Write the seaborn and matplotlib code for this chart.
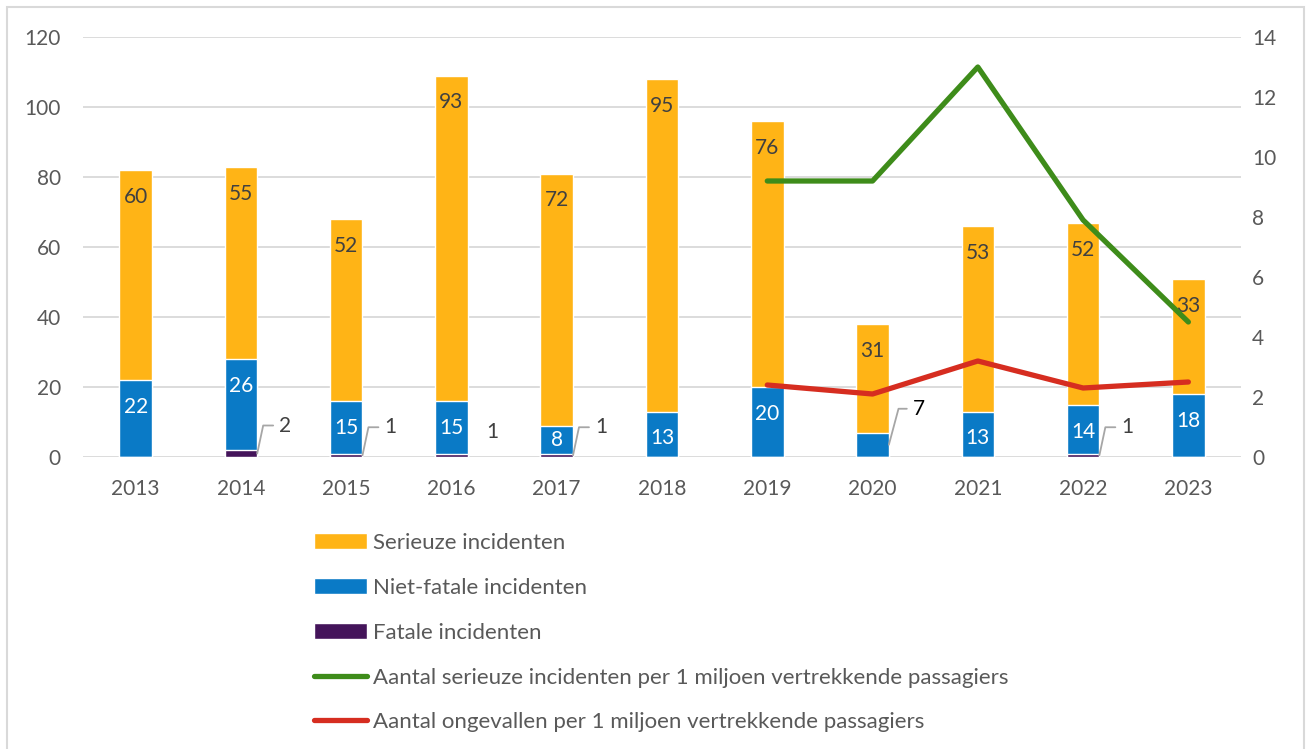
import matplotlib
matplotlib.use("Agg")
import matplotlib.pyplot as plt
import seaborn as sns
import pandas as pd
import numpy as np
from matplotlib.patches import Patch, Rectangle
from matplotlib.lines import Line2D

years = [2013, 2014, 2015, 2016, 2017, 2018, 2019, 2020, 2021, 2022, 2023]
fatal = [0, 2, 1, 1, 1, 0, 0, 0, 0, 1, 0]
nonfatal = [22, 26, 15, 15, 8, 13, 20, 7, 13, 14, 18]
serious = [60, 55, 52, 93, 72, 95, 76, 31, 53, 52, 33]

rate_years = [2019, 2020, 2021, 2022, 2023]
rate_serious = [9.2, 9.2, 13.0, 7.9, 4.5]
rate_accidents = [2.4, 2.1, 3.2, 2.3, 2.5]

labels = ["Serieuze incidenten", "Niet-fatale incidenten", "Fatale incidenten",
          "Aantal serieuze incidenten per 1 miljoen vertrekkende passagiers",
          "Aantal ongevallen per 1 miljoen vertrekkende passagiers"]

C_YEL = "#FFB416"
C_BLU = "#0A7AC6"
C_PUR = "#44145A"
C_GRN = "#3E8C1A"
C_RED = "#D62D20"
C_TXT = "#595959"
C_GRID = "#D9D9D9"

sns.set_theme(style="white")
plt.rcParams["font.family"] = ["Lato", "DejaVu Sans"]

df = pd.DataFrame({"year": [str(y) for y in years], "fatal": fatal,
                   "nonfatal": nonfatal, "serious": serious})
df["lvl1"] = df["fatal"]
df["lvl2"] = df["fatal"] + df["nonfatal"]
df["lvl3"] = df["lvl2"] + df["serious"]
order = df["year"].tolist()

fig = plt.figure(figsize=(13.09, 7.49), dpi=100)
ax = fig.add_axes([83/1309, 1-457/749, (1241-83)/1309, (457-37)/749])

W = 0.31
sns.barplot(data=df, x="year", y="lvl3", order=order, color=C_YEL, width=W,
            saturation=1, ax=ax, zorder=2)
sns.barplot(data=df, x="year", y="lvl2", order=order, color=C_BLU, width=W,
            saturation=1, ax=ax, zorder=3)
sns.barplot(data=df, x="year", y="lvl1", order=order, color=C_PUR, width=W,
            saturation=1, ax=ax, zorder=4)

ax.set_ylim(0, 120)
ax.set_xlim(-0.5, len(years) - 0.5)
ax.set_yticks(np.arange(0, 121, 20))
ax.yaxis.grid(True, color=C_GRID, linewidth=1.3)
ax.set_axisbelow(True)
for s in ax.spines.values():
    s.set_visible(False)
ax.set_xlabel("")
ax.set_ylabel("")
ax.tick_params(axis="y", length=0, pad=16, labelsize=15, labelcolor=C_TXT)
ax.tick_params(axis="x", length=0, pad=16, labelsize=15, labelcolor=C_TXT)

FS = 15
px = 0.72  # points per pixel
for i, row in df.iterrows():
    ax.annotate(str(row["serious"]), (i, row["lvl3"]), xytext=(0, -27*px),
                textcoords="offset points", ha="center", va="center",
                fontsize=FS, color="#404040", zorder=6)
    if row["nonfatal"] >= 8:
        top_px_y = ax.transData.transform((i, row["lvl2"]))[1]
        mid_px_y = ax.transData.transform((i, (row["lvl1"] + row["lvl2"]) / 2))[1]
        ypix = min(max(top_px_y - 27, mid_px_y), top_px_y - 27) if row["nonfatal"] > 10 else mid_px_y
        yd = ax.transData.inverted().transform((0, ypix))[1]
        ax.text(i, yd, str(row["nonfatal"]), ha="center", va="center",
                fontsize=FS, color="white", zorder=6)
    else:
        ax.annotate(str(row["nonfatal"]), (i + W/2, (row["lvl1"] + row["lvl2"]) / 2),
                    xytext=(24*px, 36*px), textcoords="offset points",
                    ha="left", va="center", fontsize=FS, color="black", zorder=6,
                    arrowprops=dict(arrowstyle="-", color="#A6A6A6", lw=1.3,
                                    shrinkA=2, shrinkB=0,
                                    connectionstyle="angle,angleA=0,angleB=75,rad=0"))
    if row["fatal"] > 0:
        if row["year"] == "2016":
            ax.annotate(str(row["fatal"]), (i + W/2, row["fatal"] / 2),
                        xytext=(18*px, 23*px), textcoords="offset points",
                        ha="left", va="center", fontsize=FS, color="#404040", zorder=6)
        else:
            ax.annotate(str(row["fatal"]), (i + W/2, row["fatal"] / 2),
                        xytext=(22*px, 28*px), textcoords="offset points",
                        ha="left", va="center", fontsize=FS, color="#404040", zorder=6,
                        arrowprops=dict(arrowstyle="-", color="#A6A6A6", lw=1.3,
                                        shrinkA=2, shrinkB=0,
                                        connectionstyle="angle,angleA=0,angleB=78,rad=0"))

ax2 = ax.twinx()
xpos = [years.index(y) for y in rate_years]
sns.lineplot(x=xpos, y=rate_serious, ax=ax2, color=C_GRN, linewidth=3.8,
             solid_capstyle="round", zorder=5)
sns.lineplot(x=xpos, y=rate_accidents, ax=ax2, color=C_RED, linewidth=3.8,
             solid_capstyle="round", zorder=5)
ax2.set_ylim(0, 14)
ax2.set_yticks(np.arange(0, 15, 2))
ax2.set_xlim(-0.5, len(years) - 0.5)
for s in ax2.spines.values():
    s.set_visible(False)
ax2.tick_params(axis="y", length=0, pad=8, labelsize=15, labelcolor=C_TXT)
ax2.set_ylabel("")

handles = [Patch(facecolor=C_YEL), Patch(facecolor=C_BLU), Patch(facecolor=C_PUR),
           Line2D([], [], color=C_GRN, lw=3.8, solid_capstyle="round"),
           Line2D([], [], color=C_RED, lw=3.8, solid_capstyle="round")]
leg = fig.legend(handles, labels, loc="upper left",
                 bbox_to_anchor=(305/1309, 1 - 524/749), frameon=False,
                 fontsize=16, labelcolor=C_TXT, handlelength=2.4, handleheight=0.75,
                 handletextpad=0.27, labelspacing=1.12, borderaxespad=0)

fig.patches.append(Rectangle((7/1309, -0.01), (1304-7)/1309, 1.01 - 7/749,
                             transform=fig.transFigure, fill=False,
                             edgecolor=C_GRID, linewidth=1.5))

fig.savefig("out.png", dpi=100)
